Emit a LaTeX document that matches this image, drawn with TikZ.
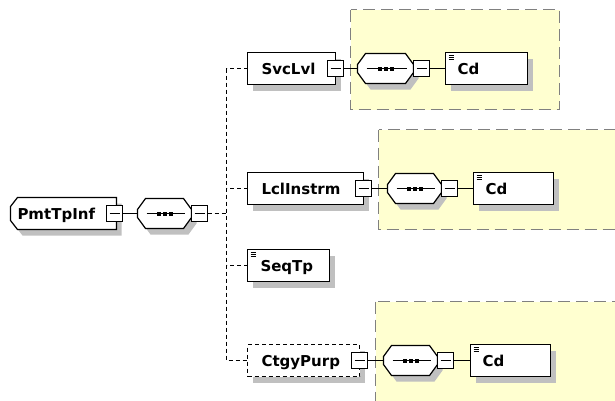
\documentclass[tikz,border=0pt]{standalone}
\usepackage{fontspec}
\setmainfont{DejaVu Sans}
\usetikzlibrary{shadows}
\definecolor{yel}{RGB}{255,255,208}
\definecolor{shd}{RGB}{192,192,192}
\definecolor{ybord}{RGB}{128,128,128}
\pgfdeclarelayer{back}
\pgfdeclarelayer{mid}
\pgfsetlayers{back,mid,main}
\newcommand\octshape[3]{([xshift=#2+8pt,yshift=#3]#1.north west) -- ([xshift=#2-8pt,yshift=#3]#1.north east) -- ([xshift=#2,yshift=#3-11pt]#1.north east) -- ([xshift=#2,yshift=#3+11pt]#1.south east) -- ([xshift=#2-8pt,yshift=#3]#1.south east) -- ([xshift=#2+8pt,yshift=#3]#1.south west) -- ([xshift=#2,yshift=#3+11pt]#1.south west) -- ([xshift=#2,yshift=#3-11pt]#1.north west) -- cycle}
\newcommand\octo[1]{%
  \begin{pgfonlayer}{mid}
    \fill[shd] \octshape{#1}{5pt}{-6pt};
    \draw[line width=1.2pt, fill=white] \octshape{#1}{0pt}{0pt};
    \draw[line width=1.1pt] ([xshift=9pt]#1.west) -- ([xshift=-7pt]#1.east);
    \foreach \d in {-6,0,6} \fill ([xshift=\d pt]#1.center) ++(-2,-2) rectangle ++(4,4);
  \end{pgfonlayer}}
\newcommand\simpicon[1]{%
  \foreach \k in {3,5,7} \draw[line width=.9pt] ([xshift=3pt,yshift=-\k pt]#1.north west) -- ++(5,0);}
\begin{document}
\begin{tikzpicture}[x=1pt,y=-1pt,line width=1.2pt,
  txt/.style={font=\fontsize{15}{18}\selectfont\bfseries, align=left, text height=11pt, text depth=0pt},
  elem/.style={txt, draw, line width=1.2pt, fill=white, rectangle, minimum height=32pt, inner ysep=0pt, outer sep=0pt, anchor=west,
    drop shadow={shadow xshift=5pt, shadow yshift=-6pt, fill=shd, opacity=1}},
  frame/.style={rectangle, minimum height=30pt, inner sep=0pt, outer sep=0pt},
  minus/.style={draw, line width=1.2pt, fill=white, rectangle, minimum width=16pt, minimum height=16pt, inner sep=0pt, outer sep=0pt,
    path picture={\draw[line width=1.1pt] ([xshift=3pt]path picture bounding box.west) -- ([xshift=-3pt]path picture bounding box.east);}},
  conn/.style={line width=1.1pt},
  rake/.style={line width=1.1pt, dash pattern=on 4pt off 3pt},
  ybox/.style={fill=yel, draw=ybord, line width=1.1pt, dash pattern=on 12pt off 6pt}]
\clip (0,0) rectangle (615,400);
% group backgrounds
\begin{pgfonlayer}{back}
  \path[ybox] (350.5,9.5) rectangle (559.5,109.5);
  \path[ybox] (378.5,129.5) rectangle (640,229.5);
  \path[ybox] (375.5,301.5) rectangle (640,440);
\end{pgfonlayer}
% root element
\node[txt, rectangle, minimum height=32pt, inner ysep=0pt, outer sep=0pt, inner xsep=7pt, text width=92pt, anchor=west] (pmt) at (10.5,213.5) {PmtTpInf};
\begin{pgfonlayer}{mid}
  \fill[shd] ([xshift=12pt,yshift=-6pt]pmt.north west) -- ([xshift=5pt,yshift=-6pt]pmt.north east) -- ([xshift=5pt,yshift=-6pt]pmt.south east) -- ([xshift=12pt,yshift=-6pt]pmt.south west) -- ([xshift=5pt,yshift=3pt]pmt.south west) -- ([xshift=5pt,yshift=-15pt]pmt.north west) -- cycle;
  \draw[line width=1.2pt, fill=white] ([xshift=7pt]pmt.north west) -- (pmt.north east) -- (pmt.south east) -- ([xshift=7pt]pmt.south west) -- ([yshift=9pt]pmt.south west) -- ([yshift=-9pt]pmt.north west) -- cycle;
\end{pgfonlayer}
\node[minus] (pmtm) at ([xshift=-2pt]pmt.east) {};
\node[frame, minimum width=54pt] (seq0) at (164.5,213.5) {};
\octo{seq0}
\node[minus, anchor=west] (seq0m) at (seq0.east) {};
\draw[conn] (pmtm.east) -- (seq0.west);
% children
\node[elem, inner xsep=14pt, text width=60pt] (svc) at (247.5,68.5) {SvcLvl};
\node[elem, inner xsep=14pt, text width=88pt] (lcl) at (247.5,188.5) {LclInstrm};
\node[elem, inner xsep=13pt, text width=56pt] (seqtp) at (247.5,265.5) {SeqTp};
\simpicon{seqtp}
\node[elem, dash pattern=on 4pt off 3pt, inner xsep=14pt, text width=84pt] (ctgy) at (247.5,360.5) {CtgyPurp};
% rake
\coordinate (rk) at (226.5,213.5);
\draw[rake] (seq0m.east) -- (rk);
\draw[rake] (svc.west) -| (rk) |- (ctgy.west);
\draw[rake] (lcl.west) -- (lcl.west -| rk);
\draw[rake] (seqtp.west) -- (seqtp.west -| rk);
% SvcLvl content
\node[minus] (svcm) at (svc.east) {};
\node[frame, minimum width=56pt] (seq1) at (385.5,68.5) {};
\octo{seq1}
\node[minus, anchor=west] (seq1m) at (seq1.east) {};
\node[elem, inner xsep=12pt, text width=58pt] (cd1) at (445.5,68.5) {Cd};
\simpicon{cd1}
\draw[conn] (svcm.east) -- (seq1.west);
\draw[conn] (seq1m.east) -- (cd1.west);
% LclInstrm content
\node[minus] (lclm) at (lcl.east) {};
\node[frame, minimum width=54pt] (seq2) at (414.5,188.5) {};
\octo{seq2}
\node[minus, anchor=west] (seq2m) at (seq2.east) {};
\node[elem, inner xsep=12pt, text width=56pt] (cd2) at (473.5,188.5) {Cd};
\simpicon{cd2}
\draw[conn] (lclm.east) -- (seq2.west);
\draw[conn] (seq2m.east) -- (cd2.west);
% CtgyPurp content
\node[minus] (ctgym) at (ctgy.east) {};
\node[frame, minimum width=54pt] (seq3) at (410.5,360.5) {};
\octo{seq3}
\node[minus, anchor=west] (seq3m) at (seq3.east) {};
\node[elem, inner xsep=12pt, text width=56pt] (cd3) at (470.5,360.5) {Cd};
\simpicon{cd3}
\draw[conn] (ctgym.east) -- (seq3.west);
\draw[conn] (seq3m.east) -- (cd3.west);
\end{tikzpicture}
\end{document}
